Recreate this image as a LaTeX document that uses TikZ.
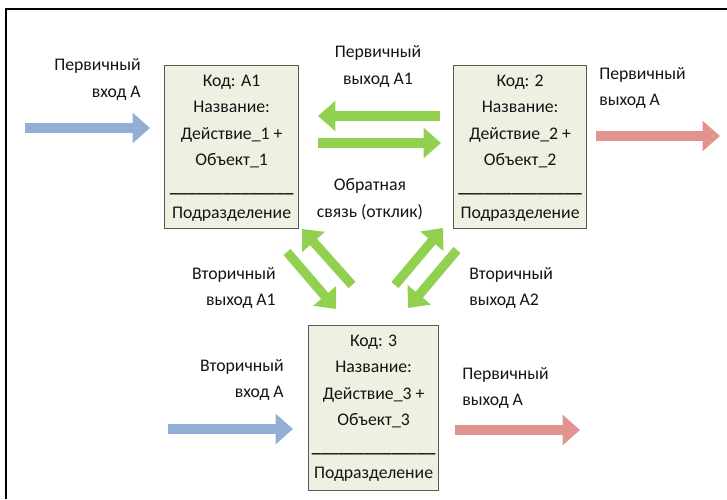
\documentclass[tikz,border=0pt]{standalone}
\usepackage{fontspec}
\setmainfont{Carlito}
\usepackage{xcolor}
\usetikzlibrary{arrows.meta,positioning}

\definecolor{boxfill}{HTML}{EEF0E2}
\definecolor{inblue}{HTML}{92AED4}
\definecolor{outred}{HTML}{E0938F}
\definecolor{linkgreen}{HTML}{92D050}
\newcommand{\sepline}{\textbf{\_\_\_\_\_\_\_\_\_\_\_\_\_\_}}

\begin{document}
\begin{tikzpicture}[x=0.75pt,y=-0.75pt,
    font=\fontsize{13.3}{19.9}\selectfont,
    txt/.style={text=black!92,inner sep=0pt},
    unit/.style={draw=black!65,line width=0.9pt,fill=boxfill,anchor=north west},
    blk/.style={line width=7pt,-{Triangle[length=13pt,width=22pt]}}]
    \useasboundingbox (0,0) rectangle (727,499);
    % frame
    \draw[line width=1.8pt] (6,499) -- (6,9) -- (727,9);

    % units
    \node[unit,minimum width=100.5pt,minimum height=122.25pt] (a1) at (164,65) {};
    \node[txt,align=center,below=7pt of a1.north] (a1txt) {Код: A1\\Название:\\Действие\_1 +\\Объект\_1\\\sepline\\Подразделение};
    \node[unit,minimum width=99.75pt,minimum height=122.25pt] (a2) at (453,65) {};
    \node[txt,align=center,below=7pt of a2.north] (a2txt) {Код: 2\\Название:\\Действие\_2 +\\Объект\_2\\\sepline\\Подразделение};
    \node[unit,minimum width=97.5pt,minimum height=123.75pt] (a3) at (308,325) {};
    \node[txt,align=center,below=7pt of a3.north] (a3txt) {Код: 3\\Название:\\Действие\_3 +\\Объект\_3\\\sepline\\Подразделение};

    % labels
    \node[txt,align=right,anchor=east] (inA) at (141,79.5) {Первичный\\вход A};
    \node[txt,align=center] (outA1) at (378,66.5) {Первичный\\выход A1};
    \node[txt,align=left,anchor=west] (outA) at (599,88) {Первичный\\выход A};
    \node[txt,align=center] (fb) at (370,199) {Обратная\\связь (отклик)};
    \node[txt,align=right,anchor=east] (secA1) at (276,288) {Вторичный\\выход A1};
    \node[txt,align=left,anchor=west] (secA2) at (469,288) {Вторичный\\выход A2};
    \node[txt,align=right,anchor=east] (secin) at (284,380) {Вторичный\\вход A};
    \node[txt,align=left,anchor=west] (outA3) at (462,388) {Первичный\\выход A};

    % arrow ends
    \coordinate (inAs) at (25,128);   \coordinate (inAe) at (150,128);
    \coordinate (outAs) at (596,136); \coordinate (outAe) at (720,136);
    \coordinate (revs) at (440,116);  \coordinate (reve) at (318,116);
    \coordinate (fwds) at (318,143);  \coordinate (fwde) at (441,143);
    \coordinate (upls) at (352,285);  \coordinate (uple) at (302,229);
    \coordinate (dnls) at (287,252);  \coordinate (dnle) at (336,309);
    \coordinate (uprs) at (395,285);  \coordinate (upre) at (443,228);
    \coordinate (dnrs) at (457,250);  \coordinate (dnre) at (408,308);
    \coordinate (secins) at (168,429); \coordinate (secine) at (293,429);
    \coordinate (outA3s) at (455,430); \coordinate (outA3e) at (580,430);

    \draw[blk,inblue] (inAs) -- (inAe);
    \draw[blk,inblue] (secins) -- (secine);
    \draw[blk,outred] (outAs) -- (outAe);
    \draw[blk,outred] (outA3s) -- (outA3e);
    \draw[blk,linkgreen] (revs) -- (reve);
    \draw[blk,linkgreen] (fwds) -- (fwde);
    \draw[blk,linkgreen] (upls) -- (uple);
    \draw[blk,linkgreen] (dnls) -- (dnle);
    \draw[blk,linkgreen] (uprs) -- (upre);
    \draw[blk,linkgreen] (dnrs) -- (dnre);
\end{tikzpicture}
\end{document}
